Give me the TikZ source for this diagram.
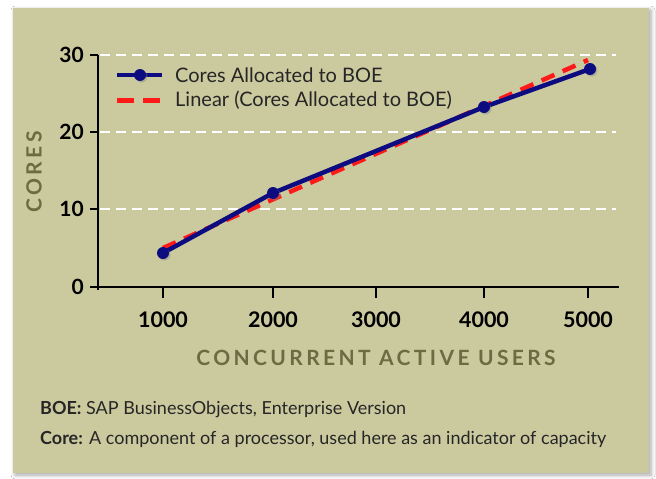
\documentclass[tikz,border=0pt]{standalone}
\usepackage{fontspec}
\setmainfont{Lato}
\usetikzlibrary{shadows,shadows.blur}
\definecolor{panel}{HTML}{CBCA9F}
\definecolor{olive}{HTML}{6C6B43}
\definecolor{navy}{HTML}{0C0C80}
\definecolor{trendred}{HTML}{FF1A1A}
\tikzset{
  grid/.style={white, line width=1.3pt, dash pattern=on 10pt off 6pt},
  axisline/.style={black, line width=2.6pt},
  tickline/.style={black, line width=2.6pt},
  ylab/.style={anchor=east, font=\fontsize{21}{22}\selectfont\bfseries, inner sep=0pt},
  xlab/.style={anchor=center, font=\fontsize{21.5}{22}\selectfont\bfseries, inner sep=0pt},
  axtitle/.style={font=\fontsize{21}{22}\selectfont\bfseries\addfontfeatures{LetterSpace=16}, text=olive, inner sep=0pt},
  series/.style={navy, line width=4.5pt, line join=round},
  trend/.style={trendred, line width=4.5pt, dash pattern=on 14pt off 9pt},
  marker/.style={circle, fill=navy, minimum size=12pt, inner sep=0pt,
     drop shadow={shadow xshift=1.5pt, shadow yshift=-1.5pt, opacity=0.4}},
  legtext/.style={anchor=west, font=\fontsize{20}{22}\selectfont, inner sep=0pt, text=black!85},
  foot/.style={anchor=west, font=\fontsize{18}{20}\selectfont, inner sep=0pt, text=black!85},
}
\begin{document}
\begin{tikzpicture}[x=1pt, y=-1pt]
\useasboundingbox (0,0) rectangle (656,479);
\fill[white] (0,0) rectangle (656,479);
% panel with soft shadow
\fill[panel, blur shadow={shadow xshift=2pt, shadow yshift=-2pt, shadow blur radius=4pt, shadow opacity=35}] (13,8) rectangle (649,473);
% gridlines
\draw[grid] (100,55) -- (616,55);
\draw[grid] (100,132) -- (616,132);
\draw[grid] (100,209) -- (616,209);
% axes
\draw[axisline] (98,55) -- (98,290);
\draw[axisline] (91,287) -- (619,287);
\foreach \y in {55,132,209,287} { \draw[tickline] (90,\y) -- (98,\y); }
\foreach \x in {163,273,376,484,588} { \draw[tickline] (\x,287) -- (\x,298); }
% y labels
\node[ylab] (y30) at (84,55) {30};
\node[ylab] (y20) at (84,132) {20};
\node[ylab] (y10) at (84,209) {10};
\node[ylab] (y0) at (84,287) {0};
% x labels
\node[xlab] (x1) at (163,320) {1000};
\node[xlab] (x2) at (273,320) {2000};
\node[xlab] (x3) at (376,320) {3000};
\node[xlab] (x4) at (484,320) {4000};
\node[xlab] (x5) at (588,320) {5000};
% axis titles
\node[axtitle] (xt) at (376,358) {CONCURRENT ACTIVE USERS};
\node[axtitle, rotate=90] (yt) at (34,172) {CORES};
% trend line
\coordinate (t1) at (163,248);
\coordinate (t5) at (588,60);
\draw[trend] (t1) -- (t5);
% series
\coordinate (p1) at (163,253);
\coordinate (p2) at (273,193);
\coordinate (p4) at (484,107);
\coordinate (p5) at (590,69);
\draw[series] (p1) -- (p2) -- (p4) -- (p5);
\foreach \p in {p1,p2,p4,p5} { \node[marker] at (\p) {}; }
% legend
\coordinate (la) at (117,75);
\coordinate (lb) at (162,75);
\draw[series] (la) -- (lb);
\node[marker] (lm) at (140,75) {};
\node[legtext] (l1) at (175,75) {Cores Allocated to BOE};
\coordinate (ra) at (117,100);
\coordinate (rb) at (163,100);
\draw[trendred, line width=5pt, dash pattern=on 17pt off 9pt] (ra) -- (rb);
\node[legtext] (l2) at (175,100) {Linear (Cores Allocated to BOE)};
% footnotes
\node[foot] (f1) at (40,410) {\textbf{BOE:} SAP BusinessObjects, Enterprise Version};
\node[foot] (f2) at (40,439) {\textbf{Core:} A component of a processor, used here as an indicator of capacity};
\end{tikzpicture}
\end{document}
